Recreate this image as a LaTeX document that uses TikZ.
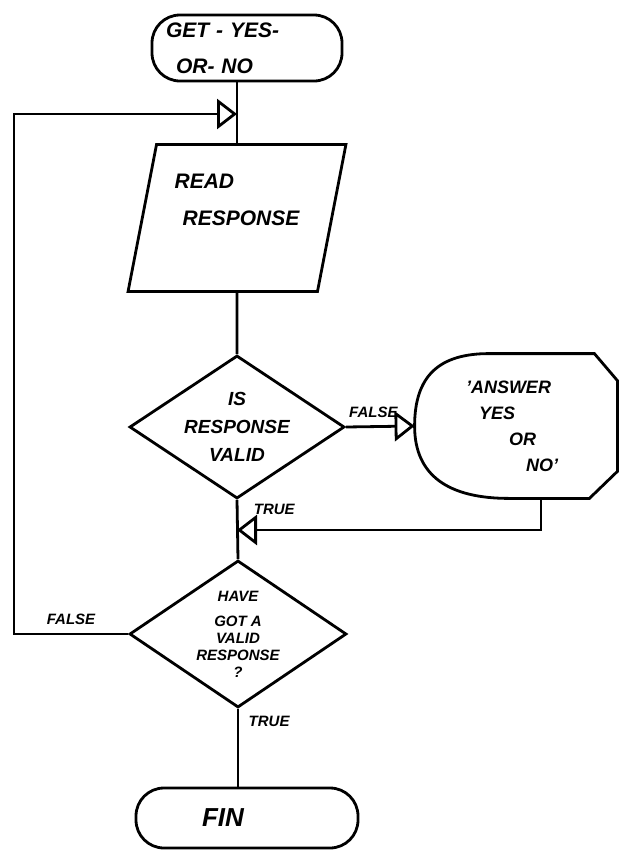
\documentclass[tikz,border=0pt]{standalone}
\usepackage{fontspec}
\setmainfont{Liberation Sans}
\usetikzlibrary{shapes.geometric, arrows.meta, positioning}

\begin{document}
\begin{tikzpicture}[x=1pt, y=-1pt, line width=2.8pt,
  every node/.style={font=\bfseries\itshape},
  flow/.style={-{Triangle[open, length=20pt, width=30pt]}},
  terminal/.style={draw, rounded corners=28pt, minimum height=66pt, inner sep=0pt},
  iobox/.style={draw, trapezium, trapezium left angle=76, trapezium right angle=104,
    trapezium stretches=true, minimum width=218pt, minimum height=147pt, inner sep=0pt},
  decision/.style={draw, diamond, aspect=1.5, inner sep=0pt},
  lbl/.style={font=\fontsize{15}{17}\selectfont\bfseries\itshape}
]
  \useasboundingbox (0,0) rectangle (620,857);

  % boxes
  \node[terminal, minimum width=190pt, text width=162pt, align=left,
    font=\fontsize{21}{36}\selectfont\bfseries\itshape] (start) at (247,48)
    {GET - YES-\\\hspace*{10pt}OR- NO};
  \node[iobox, align=left, font=\fontsize{21}{37}\selectfont\bfseries\itshape] (rd) at (237,218)
    {READ\\\hspace*{8pt}RESPONSE\\\mbox{}};
  \node[decision, minimum width=215pt, minimum height=143pt,
    font=\fontsize{19}{28}\selectfont\bfseries\itshape, align=center] (valid) at (237,427)
    {IS\\RESPONSE\\VALID};
  \node[minimum width=200pt, minimum height=142pt, inner sep=0pt, text width=130pt, align=left,
    font=\fontsize{18}{26}\selectfont\bfseries\itshape] (msg) at (516,426)
    {\hspace*{15pt}'ANSWER\\\hspace*{28pt}YES\\\hspace*{58pt}OR\\\hspace*{75pt}NO'};
  \draw (msg.west) .. controls +(0,-50) and +(-50,0) .. ([xshift=-27pt]msg.north)
    -- ([xshift=-23pt]msg.north east) -- ([yshift=-27pt]msg.north east)
    -- ([yshift=27pt]msg.south east) -- ([xshift=-28pt]msg.south east)
    -- ([xshift=-7pt]msg.south) .. controls +(-60,0) and +(0,50) .. (msg.west);
  \node[decision, minimum width=217pt, minimum height=147pt,
    font=\fontsize{15}{17}\selectfont\bfseries\itshape, align=center] (have) at (238,634)
    {HAVE\\[8pt]GOT A\\VALID\\RESPONSE\\?};
  \node[terminal, minimum width=222pt, minimum height=60pt, text width=180pt, align=left,
    font=\fontsize{26}{30}\selectfont\bfseries\itshape] (fin) at (247,818)
    {\hspace*{45pt}FIN};

  % connectors
  \coordinate (merge) at (237,114);
  \coordinate (corner) at (14,114);
  \coordinate (join) at (237,530);
  \draw (start.south -| rd.north) -- (rd.north);
  \draw (rd.south) -- (valid.north);
  \draw[flow] (valid.east) -- node[lbl, above=4pt, pos=0.4] {FALSE} (msg.west);
  \draw (valid.south) -- node[lbl, right=12pt, pos=0.16] {TRUE} (have.north);
  \draw[flow] ([xshift=25pt]msg.south) |- (join);
  \draw[flow] (have.west) -| node[lbl, above=5pt, pos=0.25] {FALSE} (corner) -- (merge);
  \draw (have.south) -- node[lbl, right=6pt, pos=0.16] {TRUE} (have.south |- fin.north);
\end{tikzpicture}
\end{document}
